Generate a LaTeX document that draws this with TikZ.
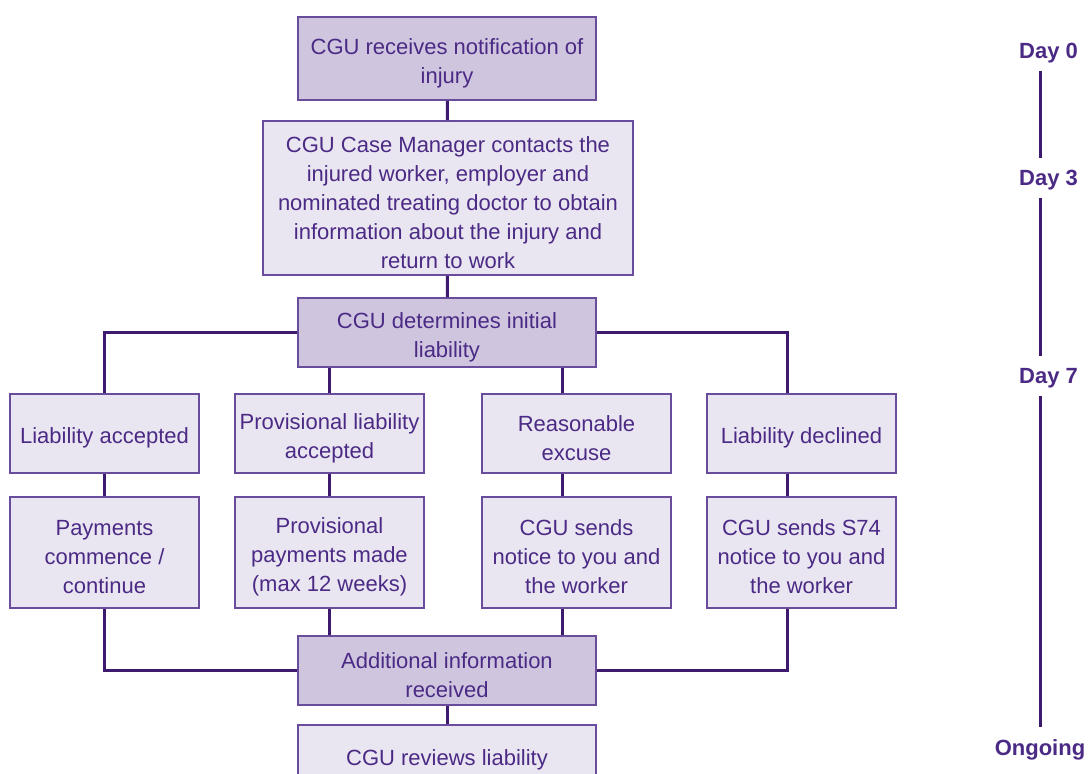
\documentclass[tikz,border=0pt]{standalone}
\usepackage{fontspec}
\setmainfont{Liberation Sans}
\definecolor{cguText}{HTML}{4B2A85}
\definecolor{cguLine}{HTML}{3D1A6E}
\definecolor{cguEdge}{HTML}{6A4C9C}
\definecolor{cguLight}{HTML}{EAE6F1}
\definecolor{cguDark}{HTML}{CFC5DF}
\newcommand{\boxstrut}{\rule{0pt}{12.5pt}}
\tikzset{
  stepbox/.style={draw=cguEdge, line width=0.9pt, fill=cguLight, text=cguText, align=center,
    inner sep=0pt, font=\fontsize{11}{14.5}\selectfont},
  keybox/.style={stepbox, fill=cguDark},
  daylabel/.style={text=cguText, inner sep=0pt, text height=8pt, text depth=0pt,
    font=\fontsize{11}{14.5}\selectfont\bfseries},
  link/.style={draw=cguLine, line width=1.5pt},
  dayline/.style={draw=cguLine, line width=1.5pt, shorten <=6pt, shorten >=6pt}
}
\begin{document}
\begin{tikzpicture}[x=0.5pt,y=-0.5pt]
\useasboundingbox (0,0) rectangle (1092,774);

    % main column
    \node[keybox, minimum width=149pt, minimum height=41.5pt] (notif) at (447,58.5) {\boxstrut CGU receives notification of\\injury};
    \node[stepbox, minimum width=185pt, minimum height=77pt] (contact) at (448,198) {\boxstrut CGU Case Manager contacts the\\injured worker, employer and\\nominated treating doctor to obtain\\information about the injury and\\return to work};
    \node[keybox, minimum width=149pt, minimum height=34.5pt] (det) at (447,332.5) {\boxstrut CGU determines initial\\liability};

    % outcomes
    \node[stepbox, minimum width=94.5pt, minimum height=39.5pt] (la) at (104.5,433.5) {\boxstrut Liability accepted};
    \node[stepbox, minimum width=94.5pt, minimum height=39.5pt] (pla) at (329.5,433.5) {\boxstrut Provisional liability\\accepted};
    \node[stepbox, minimum width=94.5pt, minimum height=39.5pt] (rex) at (576.5,433.5) {\boxstrut Reasonable\\excuse};
    \node[stepbox, minimum width=94.5pt, minimum height=39.5pt] (ld) at (801.5,433.5) {\boxstrut Liability declined};

    \node[stepbox, minimum width=94.5pt, minimum height=55.5pt] (pay) at (104.5,552.5) {\boxstrut Payments\\commence /\\continue};
    \node[stepbox, minimum width=94.5pt, minimum height=55.5pt] (ppay) at (329.5,552.5) {\boxstrut Provisional\\payments made\\(max 12 weeks)};
    \node[stepbox, minimum width=94.5pt, minimum height=55.5pt] (snd) at (576.5,552.5) {\boxstrut CGU sends\\notice to you and\\the worker};
    \node[stepbox, minimum width=94.5pt, minimum height=55.5pt] (s74) at (801.5,552.5) {\boxstrut CGU sends S74\\notice to you and\\the worker};

    \node[keybox, minimum width=149pt, minimum height=34.5pt] (add) at (447,670.5) {\boxstrut Additional information\\received};
    \node[stepbox, minimum width=149pt, minimum height=30pt] (rev) at (447,755) {\boxstrut CGU reviews liability};

    % connectors
    \draw[link] (notif) -- (contact);
    \draw[link] (contact) -- (det);
    \draw[link] (det.west) -| (la.north);
    \draw[link] (det.east) -| ([xshift=-7pt]ld.north);
    \draw[link] (pla.north) -- (pla.north |- det.south);
    \draw[link] ([xshift=-7pt]rex.north) -- ([xshift=-7pt]rex.north |- det.south);
    \draw[link] (la) -- (pay);
    \draw[link] (pla) -- (ppay);
    \draw[link] ([xshift=-7pt]rex.south) -- ([xshift=-7pt]snd.north);
    \draw[link] ([xshift=-7pt]ld.south) -- ([xshift=-7pt]s74.north);
    \draw[link] (pay.south) |- (add.west);
    \draw[link] ([xshift=-7pt]s74.south) |- (add.east);
    \draw[link] (ppay.south) -- (ppay.south |- add.north);
    \draw[link] ([xshift=-7pt]snd.south) -- ([xshift=-7pt]snd.south |- add.north);
    \draw[link] (add) -- (rev);

    % timeline
    \node[daylabel] (d0) at (1048.5,51) {Day 0};
    \node[daylabel] (d3) at (1048.5,178) {Day 3};
    \node[daylabel] (d7) at (1048.5,376) {Day 7};
    \node[daylabel] (on) at (1040,747) {Ongoing};
    \draw[dayline] (d0.south -| on) -- (d3.north -| on);
    \draw[dayline] (d3.south -| on) -- (d7.north -| on);
    \draw[dayline] (d7.south -| on) -- (on.north);
\end{tikzpicture}
\end{document}
